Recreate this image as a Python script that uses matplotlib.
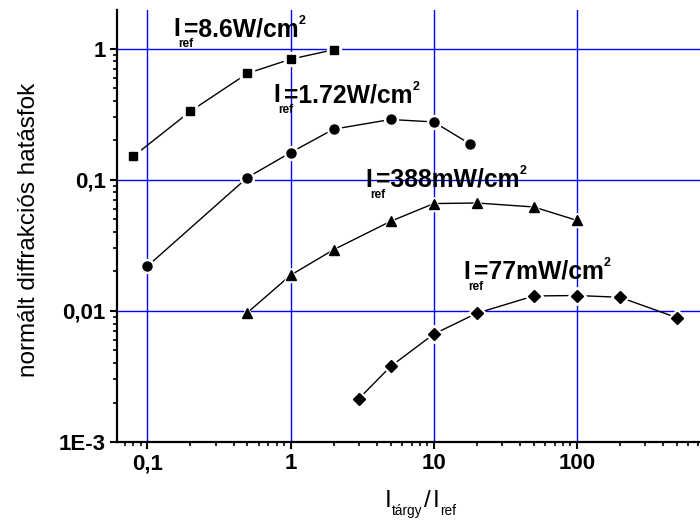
import matplotlib
matplotlib.use("Agg")
import matplotlib.pyplot as plt

plt.rcParams['font.family'] = ['Liberation Sans', 'DejaVu Sans']

# I_ref = 8.6 W/cm2
x_sq = [0.08, 0.2, 0.5, 1, 2]
y_sq = [0.151, 0.333, 0.647, 0.83, 0.98]
# I_ref = 1.72 W/cm2
x_ci = [0.1, 0.5, 1, 2, 5, 10, 18]
y_ci = [0.0219, 0.104, 0.161, 0.243, 0.288, 0.276, 0.187]
# I_ref = 388 mW/cm2
x_tr = [0.5, 1, 2, 5, 10, 20, 50, 100]
y_tr = [0.0097, 0.0187, 0.0293, 0.0482, 0.0658, 0.0665, 0.062, 0.049]
# I_ref = 77 mW/cm2
x_di = [3, 5, 10, 20, 50, 100, 200, 500]
y_di = [0.00214, 0.00377, 0.00665, 0.0096, 0.013, 0.0131, 0.0127, 0.00887]

label_values = ["=8.6W/cm", "=1.72W/cm", "=388mW/cm", "=77mW/cm"]
label_pos = [(0.151, 1.246), (0.755, 0.391), (3.31, 0.0881), (16.1, 0.0176)]

xticks = [0.1, 1, 10, 100]
xticklabels = ["0,1", "1", "10", "100"]
yticks = [0.001, 0.01, 0.1, 1]
yticklabels = ["1E-3", "0,01", "0,1", "1"]

fig = plt.figure(figsize=(7, 5.25), dpi=100)
ax = fig.add_axes([0.1667, 0.158, 0.8333, 0.823])
renderer = fig.canvas.get_renderer()


def piece(s, xy, coords, dx, dy, size, weight):
    t = ax.annotate(s, xy=xy, xycoords=coords, xytext=(dx, dy),
                    textcoords='offset pixels', fontsize=size,
                    fontweight=weight, ha='left', va='baseline', zorder=6,
                    annotation_clip=False)
    return t.get_window_extent(renderer).width


series = [(x_sq, y_sq, 's', 6), (x_ci, y_ci, 'o', 6.5),
          (x_tr, y_tr, '^', 7), (x_di, y_di, 'D', 6)]
for xs, ys, m, ms in series:
    ax.plot(xs, ys, '-', color='black', lw=1, zorder=3)
    ax.plot(xs, ys, m, ls='none', ms=ms + 3.5, color='white', mec='white', zorder=4)
    ax.plot(xs, ys, m, ls='none', ms=ms, color='black', mec='black', zorder=5)

ax.set_xscale('log')
ax.set_yscale('log')
ax.set_xlim(0.0611, 724)
ax.set_ylim(0.001, 1.97)

# I_ref labels, subscript tucked under like the original
for xy, val in zip(label_pos, label_values):
    wi = piece("I", xy, 'data', 0, 0, 17.8, 'bold')
    piece("ref", xy, 'data', 5, -11, 8.5, 'bold')
    wv = piece(val, xy, 'data', wi + 4, 0, 17.8, 'bold')
    piece("2", xy, 'data', wi + 4 + wv, 12.5, 9, 'bold')

ax.set_xticks(xticks)
ax.set_xticklabels(xticklabels)
ax.set_yticks(yticks)
ax.set_yticklabels(yticklabels)
ax.grid(True, which='major', color='#0000ff', lw=1)
ax.set_axisbelow(True)
ax.spines['top'].set_visible(False)
ax.spines['right'].set_visible(False)
ax.spines['left'].set_linewidth(1.6)
ax.spines['bottom'].set_linewidth(1.6)
ax.tick_params(which='major', direction='out', length=5, width=1.5, labelsize=16, pad=3)
ax.tick_params(which='minor', direction='out', length=3, width=1.2)
for t in ax.get_xticklabels() + ax.get_yticklabels():
    t.set_fontweight('bold')

fig.text(29 / 700, 1 - 230 / 525, "normált diffrakciós hatásfok", fontsize=17.5,
         rotation=90, ha='center', va='center')

# x label: I_tárgy / I_ref
base = (385, 18)
dx = piece("I", base, 'figure pixels', 0, 0, 17.5, 'normal')
dx += piece("tárgy", base, 'figure pixels', dx, -8, 9.8, 'normal') + 2
dx += piece("/", base, 'figure pixels', dx, 0, 17.5, 'normal') + 2
dx += piece("I", base, 'figure pixels', dx, 0, 17.5, 'normal')
piece("ref", base, 'figure pixels', dx, -8, 9.8, 'normal')

plt.savefig("out.png")
plt.close()
